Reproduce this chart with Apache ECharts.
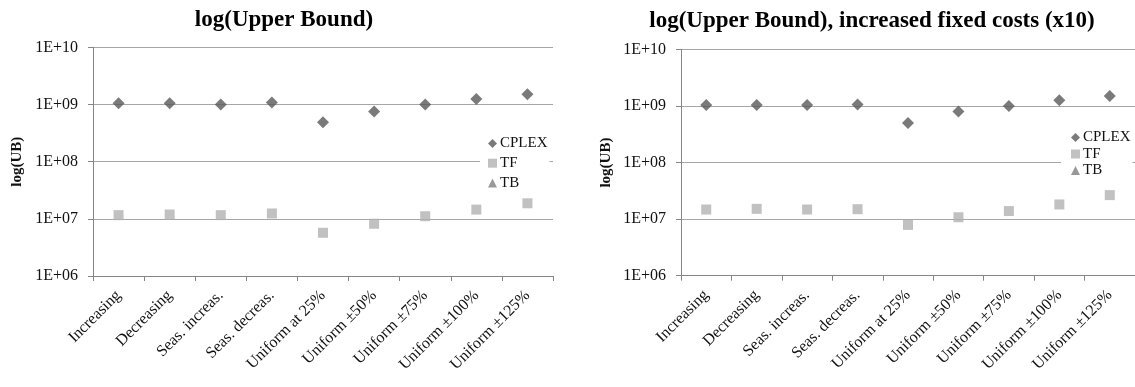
<!DOCTYPE html>
<html>
<head>
<meta charset="utf-8">
<script src="https://cdn.jsdelivr.net/npm/echarts/dist/echarts.min.js"></script>
<style>
    html, body { margin: 0; padding: 0; background: #fff; }
    #chart { width: 1135px; height: 387px; }
</style>
</head>
<body>
<div id="chart"></div>
<script>
const categories = ['Increasing', 'Decreasing', 'Seas. increas.', 'Seas. decreas.', 'Uniform at 25%',
    'Uniform ±50%', 'Uniform ±75%', 'Uniform ±100%', 'Uniform ±125%']

// left panel: base case
const cplexBase = [1.05e9, 1.05e9, 1.0e9, 1.08e9, 4.9e8, 7.55e8, 1.0e9, 1.25e9, 1.51e9]
const tfBase = [1.16e7, 1.19e7, 1.16e7, 1.24e7, 5.7e6, 8.2e6, 1.11e7, 1.45e7, 1.87e7]
const tbBase = []

// right panel: fixed costs x10
const cplexFixed = [1.04e9, 1.04e9, 1.04e9, 1.06e9, 5.0e8, 8.05e8, 1.0e9, 1.26e9, 1.5e9]
const tfFixed = [1.48e7, 1.52e7, 1.48e7, 1.5e7, 7.9e6, 1.08e7, 1.39e7, 1.82e7, 2.66e7]
const tbFixed = []

const yTickLabels = ['1E+06', '1E+07', '1E+08', '1E+09', '1E+10']

const serif = '"Liberation Serif", "Times New Roman", serif'
const axisColor = '#868686'
const gridColor = '#a6a6a6'

function xAxis(gridIndex) {
    return {
        type: 'category',
        gridIndex,
        data: categories,
        boundaryGap: true,
        axisLine: { lineStyle: { color: axisColor, width: 1 } },
        axisTick: { show: true, length: 5, lineStyle: { color: axisColor } },
        axisLabel: {
            rotate: 45, interval: 0, margin: 17,
            fontFamily: serif, fontSize: 16, color: '#111'
        },
        splitLine: { show: false }
    }
}

function yAxis(gridIndex, nameGap) {
    return {
        type: 'log',
        gridIndex,
        logBase: 10,
        min: 1e6,
        max: 1e10,
        name: 'log(UB)',
        nameLocation: 'middle',
        nameRotate: 90,
        nameGap,
        nameTextStyle: { fontFamily: serif, fontSize: 15, fontWeight: 'bold', color: '#111' },
        axisLine: { show: true, lineStyle: { color: axisColor, width: 1 } },
        axisTick: { show: true, length: 5, lineStyle: { color: axisColor } },
        axisLabel: {
            margin: 15,
            fontFamily: serif, fontSize: 16, color: '#111',
            formatter: v => yTickLabels[Math.round(Math.log10(v)) - 6]
        },
        splitLine: { show: true, lineStyle: { color: gridColor, width: 1 } }
    }
}

function series(idx, cplex, tf, tb) {
    return [
        { name: 'CPLEX', type: 'scatter', xAxisIndex: idx, yAxisIndex: idx, data: cplex,
            symbol: 'diamond', symbolSize: 12, itemStyle: { color: '#595959' } },
        { name: 'TF', type: 'scatter', xAxisIndex: idx, yAxisIndex: idx, data: tf,
            symbol: 'rect', symbolSize: 10, itemStyle: { color: '#b2b2b2' } },
        { name: 'TB', type: 'scatter', xAxisIndex: idx, yAxisIndex: idx, data: tb,
            symbol: 'triangle', symbolSize: 10, itemStyle: { color: '#7f7f7f' } }
    ]
}

function legend(left, top, gap, padLeft) {
    return {
        orient: 'vertical',
        left, top,
        backgroundColor: '#fff',
        padding: [2, 2, 2, padLeft],
        itemGap: gap,
        itemWidth: 9,
        itemHeight: 9,
        itemStyle: { borderWidth: 0 },
        textStyle: { fontFamily: serif, fontSize: 15, color: '#111', padding: [0, 0, 0, -2] },
        data: [
            { name: 'CPLEX', icon: 'diamond' },
            { name: 'TF', icon: 'rect' },
            { name: 'TB', icon: 'triangle' }
        ]
    }
}

const chart = echarts.init(document.getElementById('chart'))

chart.setOption({
    animation: false,
    backgroundColor: '#fff',
    title: [
        { text: 'log(Upper Bound)', left: 279, top: 4, textAlign: 'center',
            textStyle: { fontFamily: serif, fontSize: 23, fontWeight: 'bold', color: '#000' } },
        { text: 'log(Upper Bound), increased fixed costs (x10)', left: 867, top: 5, textAlign: 'center',
            textStyle: { fontFamily: serif, fontSize: 23, fontWeight: 'bold', color: '#000' } }
    ],
    grid: [
        { left: 93, top: 47.3, width: 460, height: 228.7 },
        { left: 681, top: 49.5, width: 456, height: 226.2 }
    ],
    legend: [
        Object.assign(legend(480, 134, 4.7, 8), { seriesIndex: [0, 1, 2] }),
        Object.assign(legend(1061, 128, 1.5, 10), { seriesIndex: [3, 4, 5] })
    ],
    xAxis: [xAxis(0), xAxis(1)],
    yAxis: [yAxis(0, 68), yAxis(1, 67)],
    series: [
        ...series(0, cplexBase, tfBase, tbBase),
        ...series(1, cplexFixed, tfFixed, tbFixed)
    ]
})
</script>
</body>
</html>
